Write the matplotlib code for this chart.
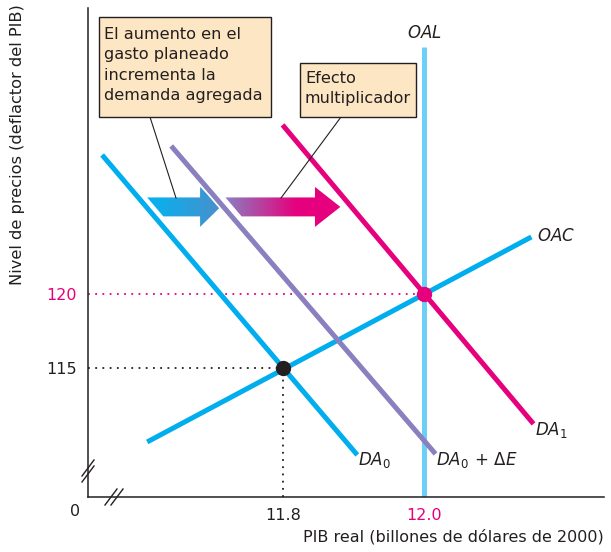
import numpy as np
import matplotlib.pyplot as plt
from matplotlib.patches import Polygon, Rectangle
from matplotlib.colors import to_rgb

plt.rcParams['font.family'] = 'DejaVu Sans'
plt.rcParams['mathtext.fontset'] = 'dejavusans'

TXT = '#231f20'
BLUE = '#00aeef'
PURPLE = '#8a80bf'
MAGENTA = '#e6007e'
OAL_BLUE = '#6dcff6'

# curves (x = PIB real, y = nivel de precios)
da0_x = [11.543, 11.905]
da0_y = [129.41, 109.14]
dae_x = [11.641, 12.016]
dae_y = [130.02, 109.21]
da1_x = [11.799, 12.155]
da1_y = [131.44, 111.24]
oac_x = [11.607, 12.152]
oac_y = [110.02, 123.87]
oal_x = 12.0
oal_top = 136.7

eq0 = (11.8, 115)
eq1 = (12.0, 120)

xticks = [11.8, 12.0]
xtick_labels = ['11.8', '12.0']
xtick_colors = [TXT, MAGENTA]
yticks = [115, 120]
ytick_labels = ['115', '120']
ytick_colors = [TXT, MAGENTA]

# shift arrows: tail x, head base x, tip x, centre y
arrow1 = (11.607, 11.682, 11.711, 125.9)
arrow2 = (11.718, 11.845, 11.881, 125.9)

W, H = 611, 552
fig = plt.figure(figsize=(W / 100, H / 100), dpi=100)
ax = fig.add_axes([88 / W, 55 / H, 516 / W, 489 / H])
ax.set_xlim(11.523, 12.255)
ax.set_ylim(106.3, 139.34)
for s in ['top', 'right']:
    ax.spines[s].set_visible(False)
for s in ['left', 'bottom']:
    ax.spines[s].set_color(TXT)
    ax.spines[s].set_linewidth(1.1)

x_lo, y_lo = ax.get_xlim()[0], ax.get_ylim()[0]

# dotted guides
ax.plot([x_lo, eq0[0]], [eq0[1], eq0[1]], ls=(0, (1, 3)), color=TXT, lw=1.3)
ax.plot([eq0[0], eq0[0]], [y_lo, eq0[1]], ls=(0, (1, 3)), color=TXT, lw=1.3)
ax.plot([x_lo, eq1[0]], [eq1[1], eq1[1]], ls=(0, (1, 3)), color=MAGENTA, lw=1.3)

lw = 3.6
ax.plot([oal_x, oal_x], [y_lo, oal_top], color=OAL_BLUE, lw=lw, solid_capstyle='butt')
ax.plot(oac_x, oac_y, color=BLUE, lw=lw, solid_capstyle='butt')
ax.plot(da0_x, da0_y, color=BLUE, lw=lw, solid_capstyle='butt')


def grad_arrow(spec, c0, c1, stop=1.0):
    x0, xb, xt, yc = spec
    sh, hh = 0.64, 1.35
    slant = 2 * sh / 56
    pts = [(x0, yc + sh), (xb, yc + sh), (xb, yc + hh), (xt, yc),
           (xb, yc - hh), (xb, yc - sh), (x0 + slant, yc - sh)]
    poly = Polygon(pts, closed=True, fc='none', ec='none')
    ax.add_patch(poly)
    t = np.clip(np.linspace(0, 1, 256) / stop, 0, 1)
    a, b = np.array(to_rgb(c0)), np.array(to_rgb(c1))
    img = (a[None, :] * (1 - t[:, None]) + b[None, :] * t[:, None])[None, :, :]
    im = ax.imshow(img, extent=[x0, xt, yc - hh, yc + hh], aspect='auto',
                   interpolation='bilinear', zorder=3)
    im.set_clip_path(poly)


grad_arrow(arrow1, '#00b4f0', '#4a8fcc', stop=1.0)
grad_arrow(arrow2, '#8a80c0', MAGENTA, stop=0.62)

# purple curve over the arrows, with a white edge only where it crosses them
edge = ax.plot(dae_x, dae_y, color='white', lw=lw + 2.5, solid_capstyle='butt', zorder=4)[0]
clip = Rectangle((x_lo, arrow1[3] - 1.6), 1.0, 3.2, transform=ax.transData)
edge.set_clip_path(clip)
ax.plot(dae_x, dae_y, color=PURPLE, lw=lw, solid_capstyle='butt', zorder=5)
ax.plot(da1_x, da1_y, color=MAGENTA, lw=lw, solid_capstyle='butt', zorder=5)

ax.plot(*eq0, 'o', color=TXT, ms=10, zorder=6)
ax.plot(*eq1, 'o', color=MAGENTA, ms=10, zorder=6)

# ticks
ax.set_xticks(xticks)
ax.set_xticklabels(xtick_labels)
ax.set_yticks(yticks)
ax.set_yticklabels(ytick_labels)
ax.tick_params(length=0, labelsize=11.5, pad=8)
for lab, c in zip(ax.get_xticklabels(), xtick_colors):
    lab.set_color(c)
for lab, c in zip(ax.get_yticklabels(), ytick_colors):
    lab.set_color(c)
fig.text(75 / W, 1 - 512 / H, '0', ha='center', va='center', fontsize=11.5, color=TXT)

fig.text(604 / W, 1 - 537 / H, 'PIB real (billones de dólares de 2000)',
         ha='right', va='center', fontsize=11.5, color=TXT)
fig.text(18 / W, 1 - 4 / H, 'Nivel de precios (deflactor del PIB)',
         rotation=90, ha='center', va='top', fontsize=11.7, color=TXT)

# curve labels
lab_kw = dict(fontsize=12, color=TXT, va='center')
ax.text(oal_x, 137.65, r'$OAL$', ha='center', **lab_kw)
ax.text(12.16, 123.94, r'$OAC$', ha='left', **lab_kw)
ax.text(12.157, 110.83, r'$DA_{\mathrm{1}}$', ha='left', **lab_kw)
ax.text(11.906, 108.8, r'$DA_{\mathrm{0}}$', ha='left', **lab_kw)
ax.text(12.016, 108.8, r'$DA_{\mathrm{0}}\,+\,\Delta E$', ha='left', **lab_kw)


# axis break marks (figure pixels)
def fig_line(x, y, **kw):
    fig.add_artist(plt.Line2D([v / W for v in x], [1 - v / H for v in y], **kw))


for d in (-3, 3):
    fig_line([82, 94], [479 + d, 463 + d], color=TXT, lw=1.0)
    fig_line([108 + d, 120 + d], [505, 489], color=TXT, lw=1.0)

# annotation boxes (figure pixels)
for (x0, y0, x1, y1) in [(99, 17, 271, 117), (300, 63, 416, 117)]:
    fig.add_artist(Rectangle((x0 / W, 1 - y1 / H), (x1 - x0) / W, (y1 - y0) / H,
                             transform=fig.transFigure, fc='#fde6c3', ec=TXT, lw=1.0, zorder=7))
box_txt = dict(ha='left', va='top', fontsize=11.6, color=TXT, linespacing=1.45, zorder=8)
fig.text(104 / W, 1 - 27 / H, 'El aumento en el\ngasto planeado\nincrementa la\ndemanda agregada', **box_txt)
fig.text(305 / W, 1 - 71 / H, 'Efecto\nmultiplicador', **box_txt)
fig_line([150, 176], [117, 198], color=TXT, lw=0.8)
fig_line([341, 281], [117, 198], color=TXT, lw=0.8)

fig.savefig('out.png', dpi=100)
